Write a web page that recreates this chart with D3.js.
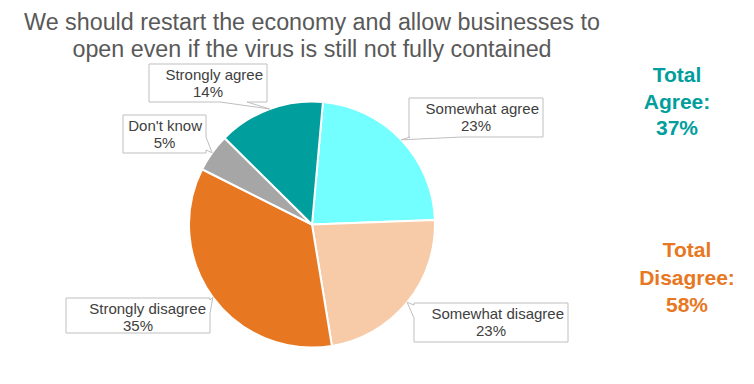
<!DOCTYPE html>
<html>
<head>
<meta charset="utf-8">
<script src="https://cdn.jsdelivr.net/npm/d3@7"></script>
<style>
  html, body { margin: 0; padding: 0; background: #fff; }
  svg { display: block; font-family: "Liberation Sans", Arial, sans-serif; }
</style>
</head>
<body>
<svg id="chart" width="754" height="384"></svg>
<script>
// ---- data ----
const categories = ["Somewhat agree", "Somewhat disagree", "Strongly disagree", "Don't know", "Strongly agree"];
const values = [23, 23, 35, 5, 14];
const valueLabels = ["23%", "23%", "35%", "5%", "14%"];
const sliceColors = ["#73FEFF", "#F7CBA8", "#E87722", "#A6A6A6", "#009E9C"];
const titleLines = ["We should restart the economy and allow businesses to", "open even if the virus is still not fully contained"];
const agreeLines = ["Total", "Agree:", "37%"];
const disagreeLines = ["Total", "Disagree:", "58%"];

// ---- layout ----
const cx = 312, cy = 224.5, R = 123;
// callout boxes: x, y, w, h, pointer side, base start, base end (along side)
const boxes = [
  {x: 409, y: 98,  w: 134, h: 39, side: "bottom", a: 410, b: 462},
  {x: 414, y: 303, w: 154, h: 39, side: "left",   a: 305, b: 318},
  {x: 66,  y: 298, w: 144, h: 35, side: "right",  a: 300, b: 313},
  {x: 123, y: 115, w: 83,  h: 38, side: "right",  a: 137, b: 150},
  {x: 149, y: 64,  w: 118, h: 38, side: "bottom", a: 220, b: 247}
];

const svg = d3.select("#chart");

// title
svg.append("g").selectAll("text").data(titleLines).join("text")
  .attr("x", 312).attr("y", (d, i) => 30 + i * 27)
  .attr("text-anchor", "middle")
  .attr("font-size", 23.3).attr("fill", "#595959")
  .text(d => d);

// pie
const pie = d3.pie().sort(null).value(d => d).startAngle(0.089).endAngle(0.089 + 2 * Math.PI);
const arcs = pie(values);
const arc = d3.arc().innerRadius(0).outerRadius(R);
const g = svg.append("g").attr("transform", `translate(${cx},${cy})`);
g.selectAll("path").data(arcs).join("path")
  .attr("d", arc)
  .attr("fill", (d, i) => sliceColors[i])
  .attr("stroke", "#fff").attr("stroke-width", 2).attr("stroke-linejoin", "round");

// callouts
function calloutPath(bx, tip) {
  const x0 = bx.x, y0 = bx.y, x1 = bx.x + bx.w, y1 = bx.y + bx.h;
  const [tx, ty] = tip;
  if (bx.side === "bottom") {
    return `M${x0},${y0}H${x1}V${y1}H${bx.b}L${tx},${ty}L${bx.a},${y1}H${x0}Z`;
  } else if (bx.side === "right") {
    return `M${x0},${y0}H${x1}V${bx.a}L${tx},${ty}L${x1},${bx.b}V${y1}H${x0}Z`;
  } else if (bx.side === "left") {
    return `M${x0},${y0}H${x1}V${y1}H${x0}V${bx.b}L${tx},${ty}L${x0},${bx.a}Z`;
  }
  return `M${x0},${y0}H${x1}V${y1}H${x0}Z`;
}

const lab = svg.append("g");
arcs.forEach((d, i) => {
  const mid = (d.startAngle + d.endAngle) / 2;
  const tip = [cx + R * Math.sin(mid), cy - R * Math.cos(mid)];
  const bx = boxes[i];
  lab.append("path")
    .attr("d", calloutPath(bx, tip))
    .attr("fill", "#fff").attr("stroke", "#BFBFBF").attr("stroke-width", 1);
  lab.append("text")
    .attr("x", bx.x + bx.w - 4).attr("y", bx.y + 16)
    .attr("text-anchor", "end")
    .attr("font-size", 15).attr("fill", "#404040")
    .text(categories[i]);
  lab.append("text")
    .attr("x", bx.x + bx.w / 2).attr("y", bx.y + 33)
    .attr("text-anchor", "middle")
    .attr("font-size", 15).attr("fill", "#404040")
    .text(valueLabels[i]);
});

// totals
svg.append("g").selectAll("text").data(agreeLines).join("text")
  .attr("x", 677).attr("y", (d, i) => 82 + i * 26.5)
  .attr("text-anchor", "middle").attr("font-weight", "bold")
  .attr("font-size", 21).attr("fill", "#009E9C")
  .text(d => d);
svg.append("g").selectAll("text").data(disagreeLines).join("text")
  .attr("x", 687).attr("y", (d, i) => 257 + i * 27.5)
  .attr("text-anchor", "middle").attr("font-weight", "bold")
  .attr("font-size", 21).attr("fill", "#E87722")
  .text(d => d);
</script>
</body>
</html>
